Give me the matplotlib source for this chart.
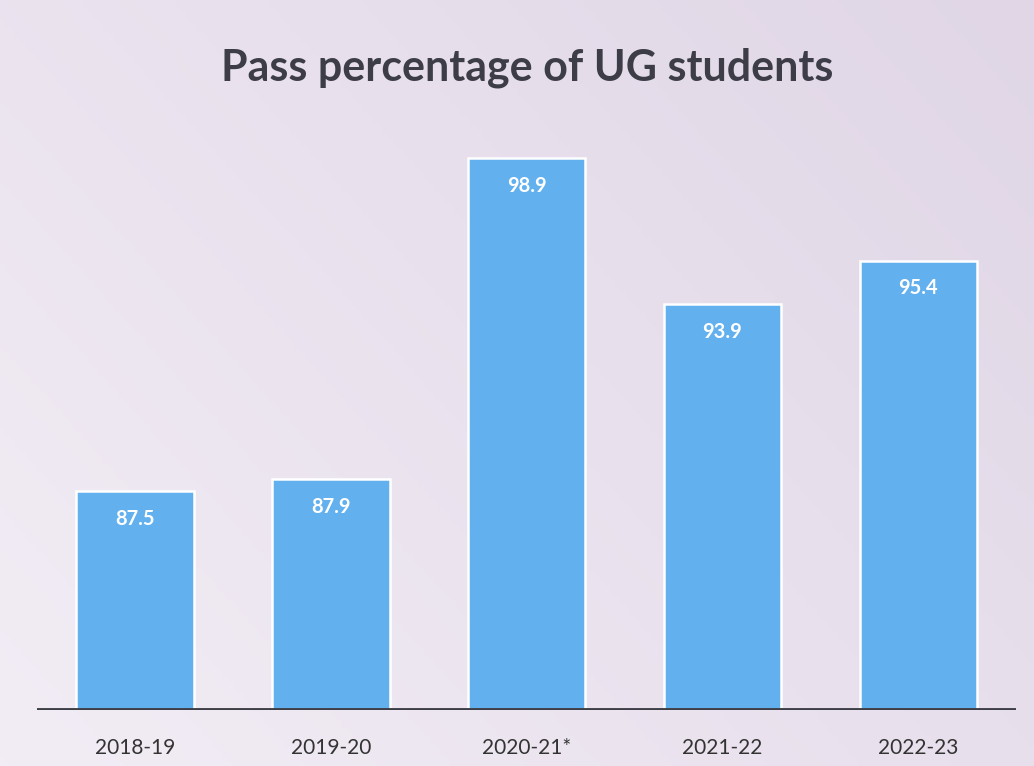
import numpy as np
import matplotlib.pyplot as plt

years = ["2018-19", "2019-20", "2020-21*", "2021-22", "2022-23"]
pass_pct = [87.5, 87.9, 98.9, 93.9, 95.4]

plt.rcParams['font.family'] = ['Lato', 'DejaVu Sans']

fig = plt.figure(figsize=(10.34, 7.66), dpi=100)
fig.patch.set_facecolor("#e9e2ee")

# soft background gradient
bg = fig.add_axes([0, 0, 1, 1], zorder=-1)
yy, xx = np.mgrid[0:1:200j, 0:1:200j]
shade = 0.6 * xx + 0.4 * (1 - yy)
bg.imshow(shade, cmap=plt.matplotlib.colors.LinearSegmentedColormap.from_list(
    "bg", ["#f2edf5", "#e0d6e6"]), aspect="auto", extent=[0, 1, 0, 1])
bg.axis("off")

ax = fig.add_axes([0.0358, 0.0731, 0.947, 0.762])
ax.set_facecolor("none")
x = np.arange(len(years))
bars = ax.bar(x, pass_pct, width=0.6, bottom=0, color="#63b0ef",
              edgecolor="white", linewidth=1.8, zorder=2)
ax.set_ylim(80, 100)
ax.set_xlim(-0.5, 4.5)

for xi, v in zip(x, pass_pct):
    ax.annotate(f"{v}", (xi, v), xytext=(0, -20), textcoords="offset points",
                ha="center", va="center", color="white", fontsize=14.5,
                fontweight="bold", zorder=3)

ax.axhline(80, color="#3e3e46", linewidth=3.5, zorder=4)
for s in ax.spines.values():
    s.set_visible(False)
ax.set_yticks([])
ax.set_xticks(x)
ax.set_xticklabels(years, fontsize=15, color="#333333")
ax.tick_params(axis="x", length=0, pad=20)

fig.text(0.51, 0.912, "Pass percentage of UG students", ha="center", va="center",
         fontsize=31, fontweight="bold", color="#3d3d48")

plt.savefig("out.png", dpi=100, facecolor=fig.get_facecolor())
